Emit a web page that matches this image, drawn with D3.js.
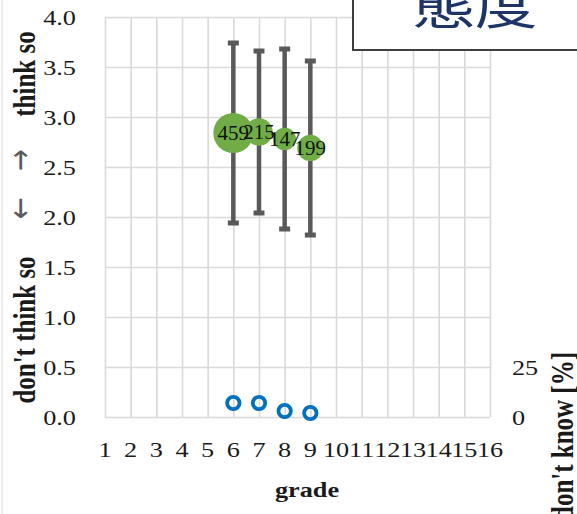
<!DOCTYPE html>
<html>
<head>
<meta charset="utf-8">
<script src="https://cdn.jsdelivr.net/npm/d3@7"></script>
<style>
  html, body { margin: 0; padding: 0; background: #fff; }
  svg { display: block; font-family: "Liberation Serif", "Times New Roman", serif; }
</style>
</head>
<body>
<svg id="chart" width="577" height="514"></svg>
<script>
// Attitude score by grade: mean (bubble, sized by n), ±SD bars, and % "don't know"
const grades = [6, 7, 8, 9];
const meanScore = [2.84, 2.85, 2.78, 2.69];
const sdScore = [0.90, 0.81, 0.90, 0.87];
const respondents = [459, 215, 147, 199];
const dontKnowPct = [7, 7, 3, 2];

const xTicks = d3.range(1, 17);
const yTicks = [0, 0.5, 1.0, 1.5, 2.0, 2.5, 3.0, 3.5, 4.0];
const rightTicks = [0, 25];

const svg = d3.select("#chart");
const W = 577, H = 514;
const plot = { left: 105, right: 490, top: 17, bottom: 417 };
const stretch = 1.25;

const x = d3.scaleLinear().domain([1, 16]).range([plot.left, plot.right]);
const y = d3.scaleLinear().domain([0, 4]).range([plot.bottom, plot.top]);
const yPct = d3.scaleLinear().domain([0, 200]).range([plot.bottom, plot.top]);
const r = d3.scaleSqrt().domain([0, 459]).range([0, 20]);

const gridColor = "#d9d9d9";
const textColor = "#1a1a1a";

// faint page edge on the left
svg.append("line")
  .attr("x1", 2).attr("x2", 2).attr("y1", 0).attr("y2", H)
  .attr("stroke", "#e6e6e6").attr("stroke-width", 1.5);

// gridlines
const gx = svg.append("g")
  .attr("transform", `translate(0,${plot.bottom})`)
  .call(d3.axisBottom(x).tickValues(xTicks).tickSize(-(plot.bottom - plot.top)).tickFormat(""));
const gy = svg.append("g")
  .attr("transform", `translate(${plot.left},0)`)
  .call(d3.axisLeft(y).tickValues(yTicks).tickSize(-(plot.right - plot.left)).tickFormat(""));
[gx, gy].forEach(g => {
  g.select(".domain").remove();
  g.selectAll(".tick line").attr("stroke", gridColor).attr("stroke-width", 1.6);
});

// tick labels
const tickFont = 21;
svg.append("g").selectAll("text").data(yTicks).join("text")
  .attr("transform", d => `translate(76,${y(d) + 8}) scale(${stretch},1)`)
  .attr("text-anchor", "end")
  .attr("font-size", tickFont).attr("fill", textColor)
  .text(d => d3.format(".1f")(d));

svg.append("g").selectAll("text").data(xTicks).join("text")
  .attr("transform", d => `translate(${x(d)},457) scale(${stretch},1)`)
  .attr("text-anchor", "middle")
  .attr("font-size", tickFont).attr("fill", textColor)
  .text(d => d);

svg.append("g").selectAll("text").data(rightTicks).join("text")
  .attr("transform", d => `translate(512,${yPct(d) + 8}) scale(${stretch},1)`)
  .attr("text-anchor", "start")
  .attr("font-size", tickFont).attr("fill", textColor)
  .text(d => d);

// axis titles
svg.append("text")
  .attr("transform", `translate(307,497) scale(${stretch},1)`)
  .attr("text-anchor", "middle")
  .attr("font-size", tickFont).attr("font-weight", "bold").attr("fill", textColor)
  .text("grade");

const leftTitle = [
  { t: "think so", y: 74, bold: true },
  { t: "\u2192", y: 160, bold: false },
  { t: "\u2190", y: 208, bold: false },
  { t: "don't think so", y: 330, bold: true }
];
svg.append("g").selectAll("text").data(leftTitle).join("text")
  .attr("transform", d => `translate(${d.bold ? 35 : 31},${d.y}) scale(${stretch},1) rotate(-90)`)
  .attr("text-anchor", "middle")
  .style("font-family", d => d.bold ? null : "'DejaVu Sans', sans-serif")
  .attr("font-size", d => d.bold ? 25 : 26)
  .attr("font-weight", d => d.bold ? "bold" : "normal")
  .attr("fill", d => d.bold ? textColor : "#5a5a5a")
  .text(d => d.t);

svg.append("text")
  .attr("transform", `translate(573,352) scale(${stretch},1) rotate(-90)`)
  .attr("text-anchor", "end")
  .attr("font-size", 25).attr("font-weight", "bold").attr("fill", textColor)
  .text("don't know [%]");

// error bars (mean ± SD)
const barColor = "#595959";
const eb = svg.append("g");
grades.forEach((g, i) => {
  const cx = x(g);
  const hi = y(meanScore[i] + sdScore[i]);
  const lo = y(meanScore[i] - sdScore[i]);
  eb.append("line").attr("x1", cx).attr("x2", cx).attr("y1", hi).attr("y2", lo)
    .attr("stroke", barColor).attr("stroke-width", 4.5);
  [hi, lo].forEach(v => eb.append("line")
    .attr("x1", cx - 5.5).attr("x2", cx + 5.5).attr("y1", v).attr("y2", v)
    .attr("stroke", barColor).attr("stroke-width", 5));
});

// bubbles sized by number of respondents
svg.append("g").selectAll("circle").data(grades).join("circle")
  .attr("cx", d => x(d))
  .attr("cy", (d, i) => y(meanScore[i]))
  .attr("r", (d, i) => r(respondents[i]))
  .attr("fill", "#70ad47");

svg.append("g").selectAll("text").data(grades).join("text")
  .attr("x", d => x(d))
  .attr("y", (d, i) => y(meanScore[i]))
  .attr("dy", "0.35em")
  .attr("text-anchor", "middle")
  .attr("font-size", 21).attr("fill", "#111")
  .text((d, i) => respondents[i]);

// "don't know" share
svg.append("g").selectAll("circle").data(grades).join("circle")
  .attr("cx", d => x(d))
  .attr("cy", (d, i) => yPct(dontKnowPct[i]))
  .attr("r", 6.2)
  .attr("fill", "none")
  .attr("stroke", "#0070c0").attr("stroke-width", 3.8);

// title box
svg.append("rect")
  .attr("x", 353).attr("y", -10).attr("width", 240).attr("height", 60)
  .attr("fill", "#fff").attr("stroke", "#404040").attr("stroke-width", 2);
svg.append("text")
  .attr("transform", `translate(475,24) scale(${stretch},1)`)
  .attr("text-anchor", "middle")
  .style("font-family", "'Noto Sans CJK JP', sans-serif")
  .attr("font-size", 50).attr("font-weight", 400).attr("fill", "#1c3566")
  .text("態度");
</script>
</body>
</html>
